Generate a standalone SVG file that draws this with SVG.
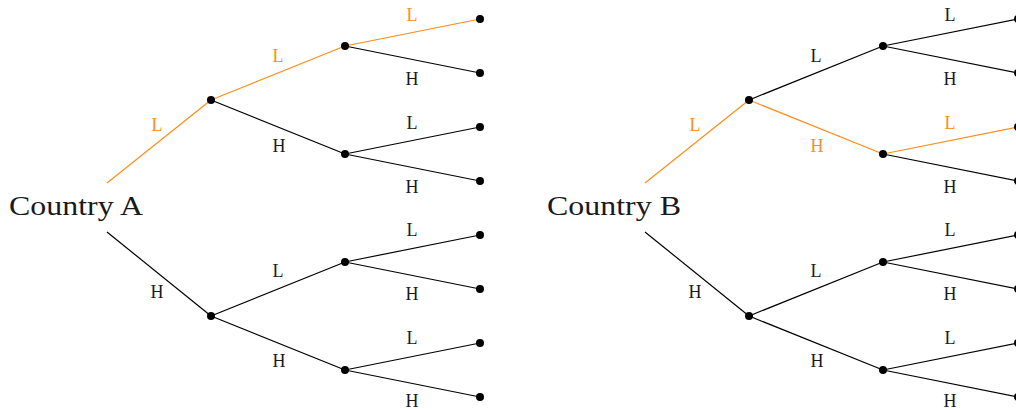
<svg xmlns="http://www.w3.org/2000/svg" width="1016" height="409" viewBox="0 0 1016 409">
<style>
.e{stroke:#000;stroke-width:1.2;fill:none}
.o{stroke:#ff8c1a;stroke-width:1.2;fill:none}
.d{fill:#000}
.l{font-family:"Liberation Serif",serif;font-size:18px;fill:#1a1a1a;text-anchor:middle}
.lo{font-family:"Liberation Serif",serif;font-size:18px;fill:#ff8c1a;text-anchor:middle}
.c{font-family:"Liberation Serif",serif;font-size:28px;fill:#1a1a1a}
</style>
<defs>
<circle id="dot" r="4" class="d"/>
</defs>
<g id="connectors">
<!-- Tree A -->
<line class="o" x1="107" y1="183" x2="211" y2="100"/>
<line class="e" x1="107" y1="232" x2="211" y2="316"/>
<line class="o" x1="211" y1="100" x2="345" y2="46"/>
<line class="e" x1="211" y1="100" x2="345" y2="154"/>
<line class="e" x1="211" y1="316" x2="345" y2="262"/>
<line class="e" x1="211" y1="316" x2="345" y2="370"/>
<line class="o" x1="345" y1="46" x2="480" y2="19"/>
<line class="e" x1="345" y1="46" x2="480" y2="73"/>
<line class="e" x1="345" y1="154" x2="480" y2="127"/>
<line class="e" x1="345" y1="154" x2="480" y2="181"/>
<line class="e" x1="345" y1="262" x2="480" y2="235"/>
<line class="e" x1="345" y1="262" x2="480" y2="289"/>
<line class="e" x1="345" y1="370" x2="480" y2="343"/>
<line class="e" x1="345" y1="370" x2="480" y2="397"/>
<!-- Tree B -->
<line class="o" x1="645" y1="183" x2="749" y2="100"/>
<line class="e" x1="645" y1="232" x2="749" y2="316"/>
<line class="e" x1="749" y1="100" x2="883" y2="46"/>
<line class="o" x1="749" y1="100" x2="883" y2="154"/>
<line class="e" x1="749" y1="316" x2="883" y2="262"/>
<line class="e" x1="749" y1="316" x2="883" y2="370"/>
<line class="e" x1="883" y1="46" x2="1018" y2="19"/>
<line class="e" x1="883" y1="46" x2="1018" y2="73"/>
<line class="o" x1="883" y1="154" x2="1018" y2="127"/>
<line class="e" x1="883" y1="154" x2="1018" y2="181"/>
<line class="e" x1="883" y1="262" x2="1018" y2="235"/>
<line class="e" x1="883" y1="262" x2="1018" y2="289"/>
<line class="e" x1="883" y1="370" x2="1018" y2="343"/>
<line class="e" x1="883" y1="370" x2="1018" y2="397"/>
</g>
<g id="labels">
<text class="lo" x="157" y="131">L</text>
<text class="l" x="157" y="298">H</text>
<text class="lo" x="278" y="62">L</text>
<text class="l" x="279" y="152">H</text>
<text class="l" x="278" y="277">L</text>
<text class="l" x="279" y="367">H</text>
<text class="lo" x="412" y="21">L</text>
<text class="l" x="412" y="85">H</text>
<text class="l" x="412" y="129">L</text>
<text class="l" x="412" y="193">H</text>
<text class="l" x="412" y="236">L</text>
<text class="l" x="412" y="300">H</text>
<text class="l" x="412" y="344">L</text>
<text class="l" x="412" y="407">H</text>
<text class="lo" x="695" y="131">L</text>
<text class="l" x="695" y="298">H</text>
<text class="l" x="816" y="62">L</text>
<text class="lo" x="817" y="152">H</text>
<text class="l" x="816" y="277">L</text>
<text class="l" x="817" y="367">H</text>
<text class="l" x="950" y="21">L</text>
<text class="l" x="950" y="85">H</text>
<text class="lo" x="950" y="129">L</text>
<text class="l" x="950" y="193">H</text>
<text class="l" x="950" y="236">L</text>
<text class="l" x="950" y="300">H</text>
<text class="l" x="950" y="344">L</text>
<text class="l" x="950" y="407">H</text>
</g>
<g id="countryA"><text class="c" x="9" y="215" textLength="134" lengthAdjust="spacingAndGlyphs">Country A</text></g>
<g id="countryB"><text class="c" x="547" y="215" textLength="134" lengthAdjust="spacingAndGlyphs">Country B</text></g>
<g id="nodesA">
<use id="a1" href="#dot" x="211" y="100"/>
<use id="a2" href="#dot" x="211" y="316"/>
<use id="a3" href="#dot" x="345" y="46"/>
<use id="a4" href="#dot" x="345" y="154"/>
<use id="a5" href="#dot" x="345" y="262"/>
<use id="a6" href="#dot" x="345" y="370"/>
<use id="a7" href="#dot" x="480" y="19"/>
<use id="a8" href="#dot" x="480" y="73"/>
<use id="a9" href="#dot" x="480" y="127"/>
<use id="a10" href="#dot" x="480" y="181"/>
<use id="a11" href="#dot" x="480" y="235"/>
<use id="a12" href="#dot" x="480" y="289"/>
<use id="a13" href="#dot" x="480" y="343"/>
<use id="a14" href="#dot" x="480" y="397"/>
</g>
<g id="nodesB">
<use id="b1" href="#dot" x="749" y="100"/>
<use id="b2" href="#dot" x="749" y="316"/>
<use id="b3" href="#dot" x="883" y="46"/>
<use id="b4" href="#dot" x="883" y="154"/>
<use id="b5" href="#dot" x="883" y="262"/>
<use id="b6" href="#dot" x="883" y="370"/>
<use id="b7" href="#dot" x="1018" y="19"/>
<use id="b8" href="#dot" x="1018" y="73"/>
<use id="b9" href="#dot" x="1018" y="127"/>
<use id="b10" href="#dot" x="1018" y="181"/>
<use id="b11" href="#dot" x="1018" y="235"/>
<use id="b12" href="#dot" x="1018" y="289"/>
<use id="b13" href="#dot" x="1018" y="343"/>
<use id="b14" href="#dot" x="1018" y="397"/>
</g>
</svg>
